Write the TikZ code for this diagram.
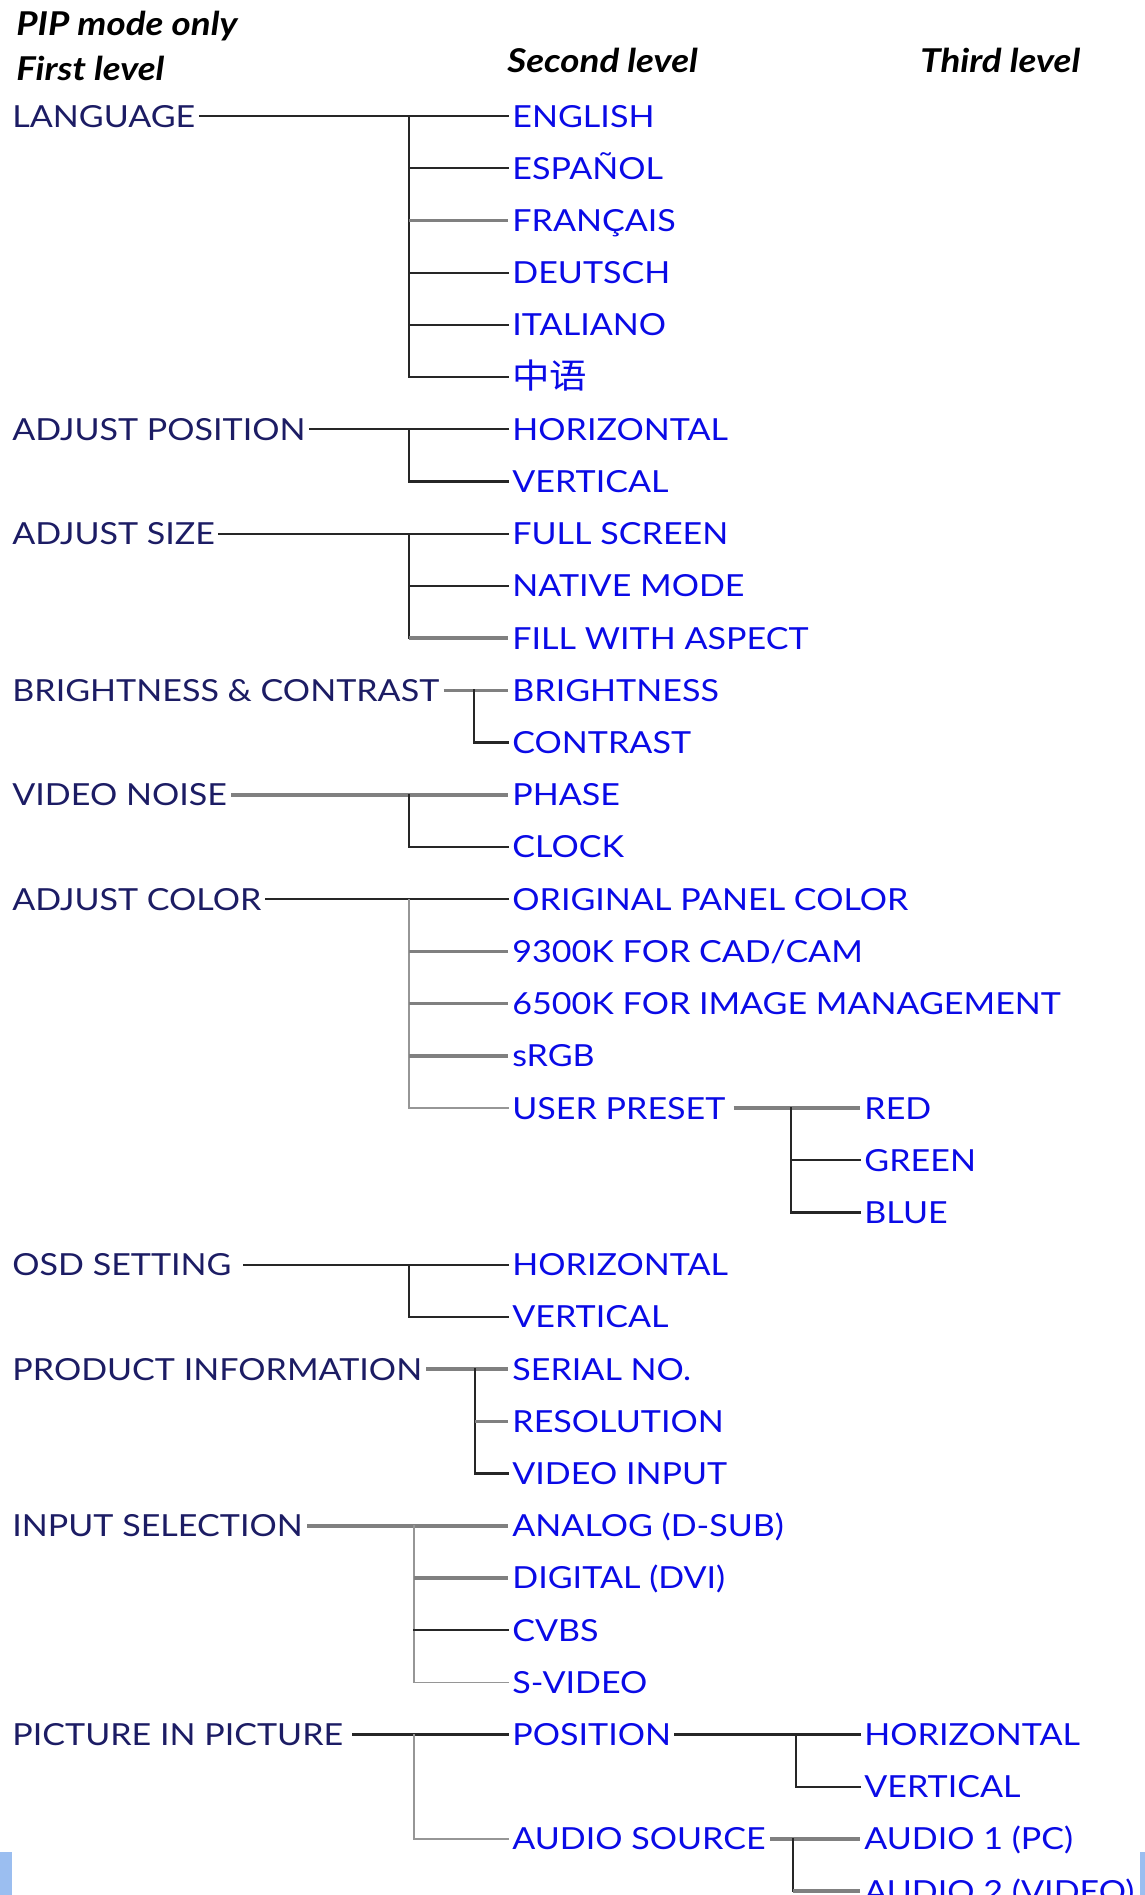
\documentclass[tikz,border=0pt]{standalone}
\usepackage{fontspec}
\setmainfont{Lato}[FakeStretch=1.12]
\newfontfamily\cjkfont{Noto Sans CJK SC}[Scale=1.12,FakeStretch=1.1]
\usetikzlibrary{calc,positioning}
\definecolor{navy}{RGB}{28,28,100}
\definecolor{menublue}{RGB}{10,10,230}
\definecolor{linegray}{RGB}{128,128,128}
\definecolor{thingray}{RGB}{150,150,150}
\definecolor{barblue}{RGB}{155,190,240}
\tikzset{
  head/.style={anchor=base west,inner sep=0pt,font=\fontsize{16.4}{18}\selectfont\bfseries\itshape},
  lvla/.style={anchor=west,text=navy,inner xsep=2pt,inner ysep=0pt,
    text height=11pt,text depth=0pt,font=\fontsize{15.2}{17}\selectfont},
  lvlb/.style={lvla,text=menublue},
  blk/.style={draw=black!85,line width=1.1pt,line cap=rect},
  gry/.style={draw=linegray,line width=1.8pt},
  thn/.style={draw=thingray,line width=0.7pt,line cap=rect}
}
\begin{document}
\begin{tikzpicture}[x=0.5pt,y=-0.5pt]
\useasboundingbox (0,0) rectangle (1145,1895);
\clip (0,0) rectangle (1145,1895);
% headings
\node[head] (hpip) at (16,35) {PIP mode only};
\node[head] (hfirst) at (16,80) {First level};
\node[head] (hsecond) at (507,72) {Second level};
\node[head] (hthird) at (920,72) {Third level};

% first level
\node[lvla] (lang) at (8,116) {LANGUAGE};
\node[lvla] (adjpos) at (8,429.3) {ADJUST POSITION};
\node[lvla] (adjsize) at (8,533.7) {ADJUST SIZE};
\node[lvla] (bc) at (8,690.3) {BRIGHTNESS \& CONTRAST};
\node[lvla] (noise) at (8,794.7) {VIDEO NOISE};
\node[lvla] (color) at (8,899.2) {ADJUST COLOR};
\node[lvla] (osd) at (8,1264.6) {OSD SETTING};
\node[lvla] (prod) at (8,1369.0) {PRODUCT INFORMATION};
\node[lvla] (input) at (8,1525.7) {INPUT SELECTION};
\node[lvla] (pip) at (8,1734.5) {PICTURE IN PICTURE};

% second level
\node[lvlb] (eng) at (508,116) {ENGLISH};
\node[lvlb] (esp) at (508,168.2) {ESPAÑOL};
\node[lvlb] (fra) at (508,220.4) {FRANÇAIS};
\node[lvlb] (deu) at (508,272.6) {DEUTSCH};
\node[lvlb] (ita) at (508,324.8) {ITALIANO};
\node[lvlb] (chn) at (508,377.1) {\cjkfont 中语};
\node[lvlb] (poshor) at (508,429.3) {HORIZONTAL};
\node[lvlb] (posver) at (508,481.5) {VERTICAL};
\node[lvlb] (full) at (508,533.7) {FULL SCREEN};
\node[lvlb] (native) at (508,585.9) {NATIVE MODE};
\node[lvlb] (fill) at (508,638.1) {FILL WITH ASPECT};
\node[lvlb] (bri) at (508,690.3) {BRIGHTNESS};
\node[lvlb] (con) at (508,742.5) {CONTRAST};
\node[lvlb] (phase) at (508,794.7) {PHASE};
\node[lvlb] (clock) at (508,846.9) {CLOCK};
\node[lvlb] (orig) at (508,899.2) {ORIGINAL PANEL COLOR};
\node[lvlb] (kcad) at (508,951.4) {9300K FOR CAD/CAM};
\node[lvlb] (kimg) at (508,1003.6) {6500K FOR IMAGE MANAGEMENT};
\node[lvlb] (srgb) at (508,1055.8) {sRGB};
\node[lvlb] (user) at (508,1108.0) {USER PRESET};
\node[lvlb] (osdhor) at (508,1264.6) {HORIZONTAL};
\node[lvlb] (osdver) at (508,1316.8) {VERTICAL};
\node[lvlb] (serial) at (508,1369.0) {SERIAL NO.};
\node[lvlb] (res) at (508,1421.3) {RESOLUTION};
\node[lvlb] (vin) at (508,1473.5) {VIDEO INPUT};
\node[lvlb] (analog) at (508,1525.7) {ANALOG (D-SUB)};
\node[lvlb] (digital) at (508,1577.9) {DIGITAL (DVI)};
\node[lvlb] (cvbs) at (508,1630.1) {CVBS};
\node[lvlb] (svideo) at (508,1682.3) {S-VIDEO};
\node[lvlb] (pos) at (508,1734.5) {POSITION};
\node[lvlb] (audio) at (508,1838.9) {AUDIO SOURCE};

% third level
\node[lvlb] (red) at (860,1108.0) {RED};
\node[lvlb] (green) at (860,1160.2) {GREEN};
\node[lvlb] (blue) at (860,1212.4) {BLUE};
\node[lvlb] (piphor) at (860,1734.5) {HORIZONTAL};
\node[lvlb] (pipver) at (860,1786.7) {VERTICAL};
\node[lvlb] (audone) at (860,1838.9) {AUDIO 1 (PC)};
\node[lvlb] (audtwo) at (860,1891.1) {AUDIO 2 (VIDEO)};

% junctions
\coordinate (jlang) at (409,116);
\coordinate (jpos) at (409,429.3);
\coordinate (jsize) at (409,533.7);
\coordinate (jbc) at (474,690.3);
\coordinate (jnoise) at (409,794.7);
\coordinate (jcolor) at (409,899.2);
\coordinate (juser) at (791,1108.0);
\coordinate (josd) at (409,1264.6);
\coordinate (jprod) at (475,1369.0);
\coordinate (jinput) at (414,1525.7);
\coordinate (jpip) at (414,1734.5);
\coordinate (jpos2) at (796,1734.5);
\coordinate (jaudio) at (793,1838.9);

% language
\draw[blk] (lang) -- (eng);
\draw[blk] (jlang) -- (jlang |- chn);
\foreach \n/\s in {esp/blk,fra/gry,deu/blk,ita/blk,chn/blk}
  \draw[\s] (jlang |- \n) -- (\n);
% adjust position
\draw[blk] (adjpos) -- (poshor);
\draw[blk] (jpos) -- (jpos |- posver) -- (posver);
% adjust size
\draw[blk] (adjsize) -- (full);
\draw[blk] (jsize) -- (jsize |- fill);
\draw[blk] (jsize |- native) -- (native);
\draw[gry] (jsize |- fill) -- (fill);
% brightness and contrast
\draw[gry] (bc) -- (bri);
\draw[blk] (jbc) -- (jbc |- con) -- (con);
% video noise
\draw[gry] (noise) -- (phase);
\draw[blk] (jnoise) -- (jnoise |- clock) -- (clock);
% adjust color
\draw[blk] (color) -- (orig);
\draw[thn] (jcolor) -- (jcolor |- user) -- (user);
\foreach \n in {kcad,kimg,srgb}
  \draw[gry] (jcolor |- \n) -- (\n);
\draw[gry,shorten <=2pt] (user) -- (red);
\draw[blk] (juser) -- (juser |- blue) -- (blue);
\draw[blk] (juser |- green) -- (green);
% osd setting
\draw[blk,shorten <=4pt] (osd) -- (osdhor);
\draw[blk] (josd) -- (josd |- osdver) -- (osdver);
% product information
\draw[gry] (prod) -- (serial);
\draw[blk] (jprod) -- (jprod |- vin) -- (vin);
\draw[gry] (jprod |- res) -- (res);
% input selection
\draw[gry] (input) -- (analog);
\draw[thn] (jinput) -- (jinput |- svideo) -- (svideo);
\draw[gry] (jinput |- digital) -- (digital);
\draw[blk] (jinput |- cvbs) -- (cvbs);
% picture in picture
\draw[blk,shorten <=3pt] (pip) -- (pos);
\draw[thn] (jpip) -- (jpip |- audio) -- (audio);
\draw[blk] (pos) -- (piphor);
\draw[blk] (jpos2) -- (jpos2 |- pipver) -- (pipver);
\draw[gry] (audio) -- (audone);
\draw[blk] (jaudio) -- (jaudio |- audtwo);
\draw[gry] (jaudio |- audtwo) -- (audtwo);

% page edge
\fill[barblue] (0,1852) rectangle (12,1895);
\fill[barblue] (1140,1852) rectangle (1145,1895);
\end{tikzpicture}
\end{document}
